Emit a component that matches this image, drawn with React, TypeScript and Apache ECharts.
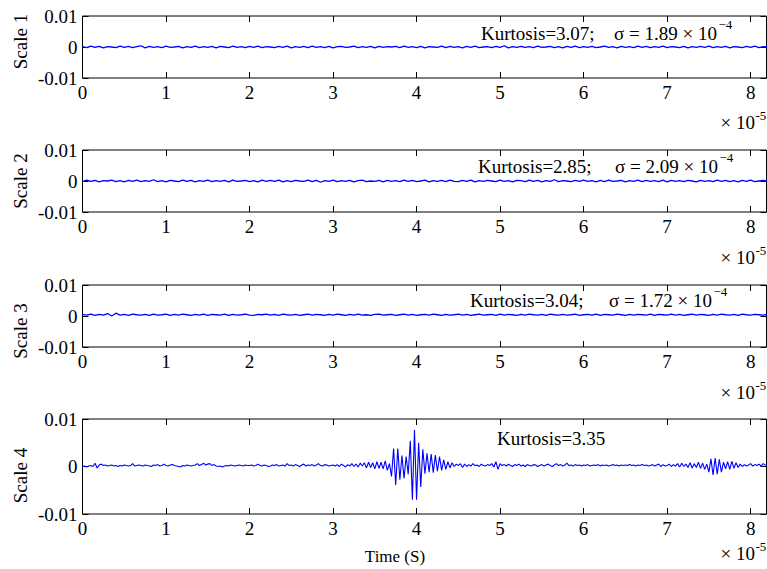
import React, { useEffect, useRef } from "react";
import * as echarts from "echarts";

// time in units of 1e-5 s, amplitude in units of 1e-3
const STEP_COARSE = 0.05;
const STEP_FINE = 0.025;
const X_MAX = 8.19;
const X_TICKS = [0, 1, 2, 3, 4, 5, 6, 7, 8];
const Y_TICK_LABELS: Record<string, string> = { "-10": "-0.01", "0": "0", "10": "0.01" };

const scaleNames = ["Scale 1", "Scale 2", "Scale 3", "Scale 4"];
const kurtosisText = ["Kurtosis=3.07;", "Kurtosis=2.85;", "Kurtosis=3.04;", "Kurtosis=3.35"];
const sigmaText = ["\u03c3 = 1.89 \u00d7 10", "\u03c3 = 2.09 \u00d7 10", "\u03c3 = 1.72 \u00d7 10", ""];
const xLabelText = "Time (S)";

const scale1 = [
  0.1,-0.2,0.3,-0.1,0.2,-0.3,0.1,0.0,-0.2,0.3,-0.1,0.2,-0.2,0.1,0.4,
  -0.3,0.2,-0.1,0.1,-0.2,0.3,-0.1,0.0,0.2,-0.3,0.1,-0.1,0.3,-0.2,0.1,
  -0.1,0.2,-0.3,0.2,0.0,-0.2,0.3,-0.1,0.1,-0.2,0.2,-0.1,0.3,-0.2,0.1,
  0.0,-0.2,0.2,-0.1,0.3,-0.3,0.1,-0.1,0.2,-0.2,0.3,-0.1,0.1,-0.2,0.2,
  -0.3,0.1,0.2,-0.1,0.0,0.3,-0.2,0.1,-0.1,0.2,-0.3,0.2,-0.1,0.1,0.0,
  0.2,-0.2,0.3,-0.1,0.1,-0.2,0.2,-0.3,0.1,0.0,-0.1,0.3,-0.2,0.2,-0.1,
  0.1,-0.3,0.2,-0.1,0.3,-0.2,0.0,0.1,-0.2,0.2,-0.1,0.4,-0.3,0.1,-0.1,
  0.2,-0.1,0.1,-0.2,0.3,-0.1,0.0,0.2,-0.2,0.1,-0.3,0.2,-0.1,0.3,-0.2,
  0.1,-0.1,0.2,-0.2,0.0,0.3,-0.1,0.1,-0.3,0.2,-0.1,0.1,-0.2,0.3,-0.1,
  0.2,-0.2,0.1,-0.1,0.3,-0.2,0.1,0.0,-0.2,0.2,-0.3,0.1,-0.1,0.2,-0.1,
  0.3,-0.2,0.1,-0.1,0.2,-0.3,0.1,0.0,-0.2,0.2,-0.1,0.3,-0.2,0.1,0.0,
];

const scale2 = [
  -0.2,0.3,-0.1,0.2,-0.3,0.1,0.0,0.3,-0.2,0.1,-0.3,0.2,-0.1,0.3,-0.2,
  0.1,-0.1,0.4,-0.2,0.1,-0.3,0.2,0.0,-0.2,0.3,-0.1,0.2,-0.3,0.1,-0.1,
  0.3,-0.2,0.1,-0.1,0.2,-0.3,0.3,-0.1,0.0,0.2,-0.2,0.1,-0.3,0.3,-0.1,
  0.2,-0.1,0.3,-0.3,0.1,-0.2,0.2,0.0,-0.1,0.3,-0.2,0.2,-0.4,0.1,-0.1,
  0.3,-0.2,0.1,-0.1,0.2,-0.3,0.1,0.3,-0.2,0.0,-0.1,0.2,-0.3,0.2,-0.1,
  0.1,-0.2,0.3,-0.1,0.2,-0.2,0.0,0.3,-0.3,0.1,-0.1,0.2,-0.2,0.3,-0.1,
  -0.2,0.2,-0.1,0.3,-0.3,0.1,-0.1,0.2,0.0,-0.2,0.3,-0.1,0.1,-0.3,0.2,
  0.1,-0.2,0.3,-0.1,0.2,-0.3,0.1,-0.1,0.4,-0.2,0.1,0.0,-0.2,0.2,-0.1,
  0.3,-0.1,0.1,-0.3,0.2,-0.2,0.3,-0.1,0.0,0.2,-0.3,0.1,-0.1,0.3,-0.2,
  0.2,-0.1,0.1,-0.2,0.3,-0.3,0.2,-0.1,0.1,-0.2,0.2,0.0,-0.3,0.2,-0.1,
  0.1,-0.2,0.3,-0.1,0.2,-0.2,0.1,-0.3,0.2,-0.1,0.3,-0.2,0.0,0.2,-0.1,
];

const scale3 = [
  0.5,0.3,0.6,0.2,0.5,0.3,0.8,0.0,0.9,0.3,0.5,0.2,0.6,0.4,0.3,
  0.5,0.2,0.6,0.3,0.4,0.6,0.2,0.5,0.3,0.6,0.4,0.2,0.5,0.3,0.6,
  0.2,0.5,0.4,0.3,0.6,0.2,0.5,0.3,0.4,0.6,0.3,0.2,0.5,0.4,0.6,
  0.3,0.5,0.2,0.6,0.4,0.3,0.5,0.2,0.4,0.6,0.3,0.5,0.4,0.2,0.5,
  0.3,0.6,0.4,0.2,0.5,0.3,0.6,0.3,0.4,0.2,0.5,0.6,0.3,0.4,0.5,
  0.2,0.4,0.6,0.3,0.5,0.2,0.4,0.5,0.3,0.6,0.4,0.2,0.5,0.3,0.4,
  0.6,0.3,0.5,0.2,0.4,0.6,0.3,0.4,0.5,0.2,0.6,0.3,0.5,0.4,0.2,
  0.5,0.3,0.6,0.4,0.3,0.5,0.2,0.6,0.4,0.3,0.5,0.3,0.4,0.6,0.2,
  0.4,0.5,0.3,0.6,0.2,0.5,0.4,0.3,0.6,0.4,0.2,0.5,0.3,0.5,0.4,
  0.3,0.6,0.2,0.5,0.4,0.3,0.6,0.3,0.5,0.2,0.4,0.6,0.3,0.5,0.4,
  0.2,0.5,0.3,0.6,0.4,0.3,0.5,0.2,0.6,0.4,0.3,0.5,0.4,0.3,0.5,
];

const scale4 = [
  // 0.0 - 1.0
  0.0,0.1,-0.1,0.1,0.2,0.0,0.7,-0.3,0.3,0.5,
  0.2,0.3,0.1,0.2,0.3,0.1,0.2,0.0,0.2,0.1,
  0.3,0.2,0.1,0.2,0.6,0.1,0.2,0.3,0.2,0.1,
  0.3,0.2,0.1,0.0,0.3,0.2,0.4,0.1,0.2,0.5,
  // 1.0 - 2.0
  0.2,0.1,0.3,0.4,0.2,0.1,0.0,-0.1,0.2,0.1,
  0.3,0.2,0.1,0.2,0.3,0.6,0.2,0.4,0.7,0.3,
  0.5,0.6,0.2,0.4,0.1,0.0,0.1,-0.1,0.1,0.2,
  0.1,0.3,0.2,0.1,0.2,0.3,0.2,0.1,0.3,0.2,
  // 2.0 - 3.0
  0.2,0.3,0.1,0.2,0.5,0.2,0.1,0.3,0.2,0.0,
  0.1,0.3,0.2,0.4,0.1,0.2,0.3,0.1,0.6,0.2,
  0.3,0.1,0.4,0.2,0.0,0.3,0.5,0.1,0.3,0.2,
  0.4,0.1,0.3,0.6,0.2,0.1,0.4,0.3,0.1,0.2,
  // 3.0 - 4.0
  0.3,0.1,0.4,0.0,0.5,0.2,-0.1,0.4,0.1,0.6,
  0.0,0.5,-0.1,0.7,0.1,0.8,-0.3,0.9,-0.2,0.8,
  -0.5,1.0,-0.4,0.9,-0.5,1.2,-0.8,0.6,-2.1,3.8,
  -3.9,3.8,-2.8,2.3,-2.5,2.1,-1.6,5.4,-7.0,7.7,
  // 4.0 - 4.5
  -7.0,5.0,-4.3,3.6,-1.5,2.8,-1.2,2.6,-1.3,2.4,
  -1.0,2.1,-0.8,1.4,-0.6,1.0,-0.3,0.8,0.0,0.5,
  // 4.5 - 7.0
  0.2,0.6,-0.2,0.5,0.0,0.4,0.1,0.6,0.2,0.3,
  0.0,0.5,0.2,0.1,0.4,0.2,0.6,-0.1,1.0,-0.6,
  0.6,0.2,0.4,0.1,0.5,0.2,0.0,0.4,0.2,0.5,
  0.1,0.3,0.0,0.4,0.2,0.1,0.4,0.3,0.0,0.2,
  0.4,0.1,0.3,0.5,0.2,0.0,0.3,0.6,0.2,0.4,
  0.1,0.3,0.7,0.2,0.3,0.1,0.4,0.2,0.3,0.1,
  0.3,0.2,0.4,0.1,0.2,0.3,0.2,0.4,0.1,0.3,
  0.2,0.3,0.1,0.2,0.4,0.2,0.3,0.1,0.3,0.2,
  0.3,0.2,0.4,0.2,0.3,0.1,0.3,0.2,0.4,0.2,
  0.3,0.1,0.2,0.4,0.1,0.3,0.5,0.0,0.4,0.1,
  // 7.0 - 8.0
  0.2,0.5,0.0,0.4,0.1,0.6,-0.1,0.7,0.0,0.5,
  -0.2,0.8,-0.3,0.6,-0.2,0.9,-0.4,0.7,-0.6,0.5,
  -1.2,1.6,-1.8,1.8,-1.6,1.5,-1.2,0.9,-0.5,1.0,
  -0.6,1.1,-0.4,0.8,-0.2,0.5,0.0,0.4,0.1,0.3,
  // 8.0 - 8.2
  0.6,0.1,0.4,0.2,0.5,0.1,0.6,0.3,0.2,
];

const signals = [
  { values: scale1, step: STEP_COARSE },
  { values: scale2, step: STEP_COARSE },
  { values: scale3, step: STEP_COARSE },
  { values: scale4, step: STEP_FINE },
];

const FONT = "'Liberation Serif', 'Times New Roman', serif";

export default function App() {
  const ref = useRef<HTMLDivElement>(null);

  useEffect(() => {
    if (!ref.current) return;
    const chart = echarts.init(ref.current, null, { renderer: "svg" });

    const panels = [
      { top: 16, height: 62, nameY: 41.5, kx: 481, ky: 33, sx: 717, supY: 24, tenY: 122, lw: 1.3 },
      { top: 150, height: 62, nameY: 181, kx: 478, ky: 166, sx: 718, supY: 157, tenY: 257, lw: 1.3 },
      { top: 285, height: 62, nameY: 331, kx: 470, ky: 300, sx: 712, supY: 291, tenY: 392, lw: 1.3 },
      { top: 419, height: 95, nameY: 475.5, kx: 497, ky: 438, sx: 0, supY: 0, tenY: 553, lw: 1.1 },
    ];

    const grid: any[] = [];
    const xAxis: any[] = [];
    const yAxis: any[] = [];
    const series: any[] = [];
    const graphic: any[] = [];

    const tick = { show: true, inside: true, length: 6, lineStyle: { color: "#000", width: 1 } };

    panels.forEach((p, i) => {
      grid.push({
        left: 82.5,
        width: 684,
        top: p.top,
        height: p.height,
        show: true,
        borderColor: "#000",
        borderWidth: 1,
        backgroundColor: "#fff",
      });
      const xBase = {
        type: "value",
        gridIndex: i,
        min: 0,
        max: X_MAX,
        interval: 1,
        splitLine: { show: false },
        axisLine: { show: false, onZero: false },
        axisTick: tick,
      };
      xAxis.push({
        ...xBase,
        position: "bottom",
        axisLabel: {
          show: true,
          margin: 5,
          fontFamily: FONT,
          fontSize: 19,
          color: "#000",
          showMaxLabel: false,
          formatter: (v: number) => (X_TICKS.includes(v) ? String(v) : ""),
        },
      });
      xAxis.push({ ...xBase, position: "top", axisLabel: { show: false } });
      const yBase = {
        type: "value",
        gridIndex: i,
        min: -10,
        max: 10,
        interval: 10,
        splitLine: { show: false },
        axisLine: { show: false, onZero: false },
        axisTick: tick,
      };
      yAxis.push({
        ...yBase,
        position: "left",
        axisLabel: {
          show: true,
          margin: 5,
          fontFamily: FONT,
          fontSize: 19,
          color: "#000",
          formatter: (v: number) => Y_TICK_LABELS[String(v)] ?? "",
        },
      });
      yAxis.push({ ...yBase, position: "right", axisLabel: { show: false } });

      const sig = signals[i];
      series.push({
        type: "line",
        xAxisIndex: 2 * i,
        yAxisIndex: 2 * i,
        data: sig.values.map((v, k) => [k * sig.step, v]),
        showSymbol: false,
        symbol: "none",
        clip: true,
        lineStyle: { color: "#0000ff", width: p.lw },
        silent: true,
      });

      // y label
      graphic.push({
        type: "text",
        x: 20,
        y: p.nameY,
        rotation: Math.PI / 2,
        style: {
          text: scaleNames[i],
          fontFamily: FONT,
          fontSize: 19,
          fill: "#000",
          align: "center",
          verticalAlign: "middle",
        },
      });
      // kurtosis
      graphic.push({
        type: "text",
        x: p.kx,
        y: p.ky,
        style: {
          text: kurtosisText[i],
          fontFamily: FONT,
          fontSize: 19,
          fill: "#000",
          align: "left",
          verticalAlign: "middle",
        },
      });
      if (sigmaText[i]) {
        graphic.push({
          type: "text",
          x: p.sx,
          y: p.ky,
          style: {
            text: sigmaText[i],
            fontFamily: FONT,
            fontSize: 19,
            fill: "#000",
            align: "right",
            verticalAlign: "middle",
          },
        });
        graphic.push({
          type: "text",
          x: p.sx + 1.5,
          y: p.supY,
          style: {
            text: "\u22124",
            fontFamily: FONT,
            fontSize: 13,
            fill: "#000",
            align: "left",
            verticalAlign: "middle",
          },
        });
      }
      // x10^-5
      graphic.push({
        type: "text",
        x: 755,
        y: p.tenY,
        style: {
          text: "\u00d7 10",
          fontFamily: FONT,
          fontSize: 19,
          fill: "#000",
          align: "right",
          verticalAlign: "middle",
        },
      });
      graphic.push({
        type: "text",
        x: 755.5,
        y: p.tenY - 7,
        style: {
          text: "-5",
          fontFamily: FONT,
          fontSize: 13,
          fill: "#000",
          align: "left",
          verticalAlign: "middle",
        },
      });
    });

    graphic.push({
      type: "text",
      x: 395,
      y: 556,
      style: {
        text: xLabelText,
        fontFamily: FONT,
        fontSize: 17,
        fill: "#000",
        align: "center",
        verticalAlign: "middle",
      },
    });

    chart.setOption({
      animation: false,
      backgroundColor: "#fff",
      grid,
      xAxis,
      yAxis,
      series,
      graphic,
    });

    return () => chart.dispose();
  }, []);

  return (
    <div
      ref={ref}
      style={{ position: "fixed", left: 0, top: 0, width: 767, height: 569, background: "#fff" }}
    />
  );
}
